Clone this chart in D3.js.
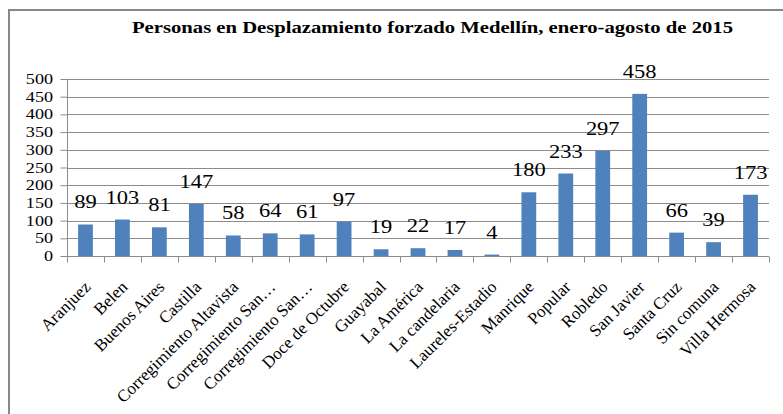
<!DOCTYPE html>
<html><head><meta charset="utf-8">
<script src="https://cdn.jsdelivr.net/npm/d3@7"></script>
<style>body{margin:0;background:#fff}svg{display:block}</style>
</head><body>
<svg id="c" width="783" height="414"></svg>
<script>
const categories = ["Aranjuez","Belen","Buenos Aires","Castilla","Corregimiento Altavista","Corregimiento San…","Corregimiento San…","Doce de Octubre","Guayabal","La América","La candelaria","Laureles-Estadio","Manrique","Popular","Robledo","San Javier","Santa Cruz","Sin comuna","Villa Hermosa"];
const values = [89,103,81,147,58,64,61,97,19,22,17,4,180,233,297,458,66,39,173];
const yTicks = [0,50,100,150,200,250,300,350,400,450,500];
const title = "Personas en Desplazamiento forzado Medellín, enero-agosto de 2015";

const svg = d3.select("#c");
const serif = "Liberation Serif, Times New Roman, Tinos, serif";
svg.append("rect").attr("x",9).attr("y",10).attr("width",800).attr("height",420)
  .attr("fill","#fff").attr("stroke","#888").attr("stroke-width",2);

const x = d3.scaleBand().domain(d3.range(categories.length)).range([67,769]).paddingInner(0.6).paddingOuter(0.3);
const y = d3.scaleLinear().domain([0,500]).range([256,79]);
const step = (769-67)/categories.length;

svg.append("text").attr("x",132).attr("y",33)
  .attr("textLength",601).attr("lengthAdjust","spacingAndGlyphs")
  .style("font-family",serif).style("font-weight","bold").style("font-size","17.5px").attr("fill","#000").text(title);

// gridlines
svg.append("g").selectAll("line").data(yTicks.filter(d=>d>0)).join("line")
  .attr("x1",67).attr("x2",769).attr("y1",d=>Math.round(y(d))+0.5).attr("y2",d=>Math.round(y(d))+0.5)
  .attr("stroke","#8c8c8c").attr("stroke-width",1);

// y axis (ticks + line via d3 axis; labels drawn stretched)
const ya = svg.append("g").attr("transform","translate(67.5,0)")
  .call(d3.axisLeft(y).tickValues(yTicks).tickSize(7).tickFormat(""));
ya.select(".domain").attr("stroke","#8c8c8c").attr("d","M0,79V256");
ya.selectAll(".tick line").attr("stroke","#8c8c8c");
svg.append("g").selectAll("text").data(yTicks).join("text")
  .attr("transform",d=>`translate(53,${y(d)+5}) scale(1.25,1)`)
  .attr("text-anchor","end").style("font-family",serif).style("font-size","14.5px").attr("fill","#000")
  .text(d=>d);

// bars
svg.append("g").selectAll("rect").data(values).join("rect")
  .attr("x",(d,i)=>x(i)).attr("width",x.bandwidth())
  .attr("y",d=>y(d)).attr("height",d=>y(0)-y(d)).attr("fill","#4F81BD");

// x axis
const xa = svg.append("g").attr("transform","translate(0,256.5)");
xa.append("line").attr("x1",67).attr("x2",769).attr("stroke","#8c8c8c");
xa.selectAll("line.t").data(d3.range(categories.length+1)).join("line").attr("class","t")
  .attr("x1",i=>Math.round(67+i*step)+0.5).attr("x2",i=>Math.round(67+i*step)+0.5)
  .attr("y1",0).attr("y2",6).attr("stroke","#8c8c8c");

// category labels
svg.append("g").selectAll("text").data(categories).join("text")
  .attr("transform",(d,i)=>`translate(${x(i)+x.bandwidth()/2+6},${288}) rotate(-45)`)
  .attr("text-anchor","end")
  .style("font-family",serif).style("font-size","17px").attr("fill","#000").text(d=>d);

// data labels
svg.append("g").selectAll("text").data(values).join("text")
  .attr("transform",(d,i)=>`translate(${x(i)+x.bandwidth()/2},${y(d)-16}) scale(1.25,1)`)
  .attr("text-anchor","middle").style("font-family",serif).style("font-size","18px").attr("fill","#000")
  .text(d=>d);
</script>
</body></html>
